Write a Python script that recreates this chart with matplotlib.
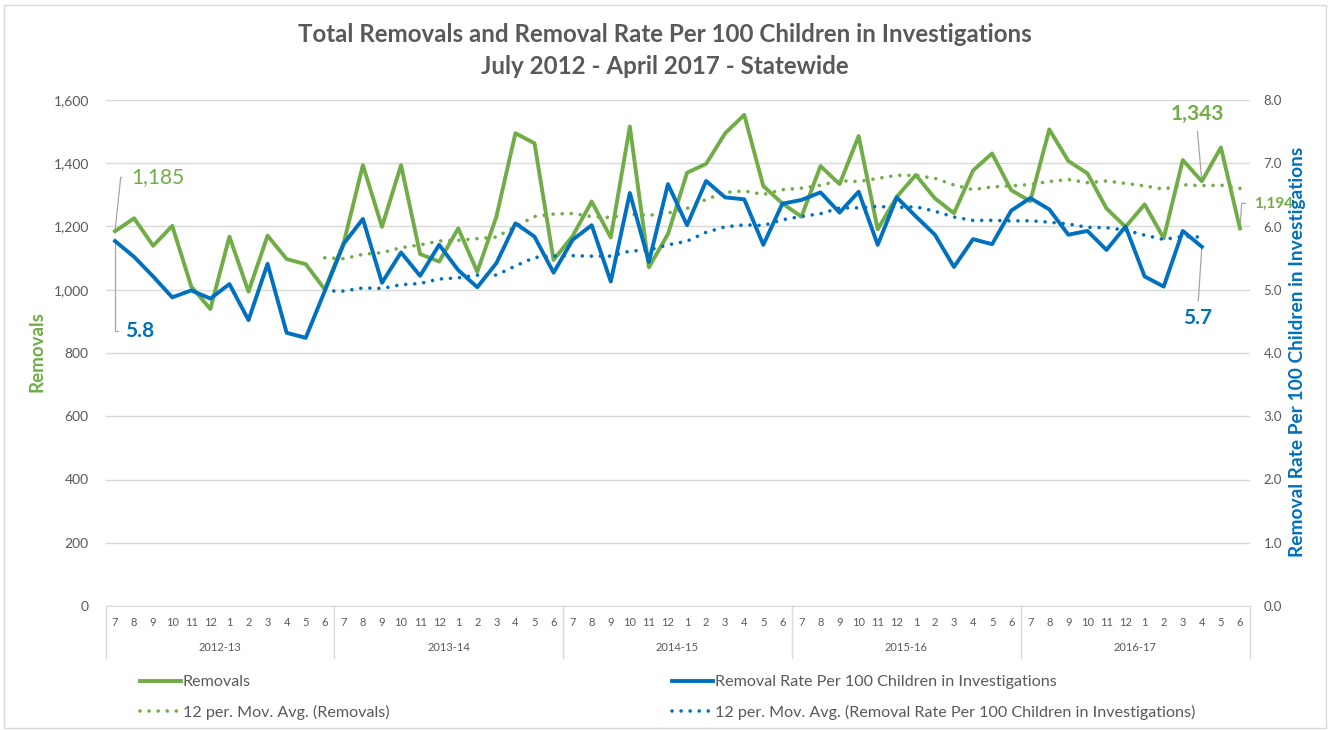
import numpy as np
import pandas as pd
import matplotlib
matplotlib.use('Agg')
import matplotlib.pyplot as plt
import matplotlib.transforms as mtransforms
from matplotlib.lines import Line2D
from matplotlib.patches import Rectangle
from matplotlib.ticker import FuncFormatter, MultipleLocator

plt.rcParams['font.family'] = ['Lato', 'DejaVu Sans']

# data (July 2012 - June 2017)
years = ['2012-13', '2013-14', '2014-15', '2015-16', '2016-17']
months = [7, 8, 9, 10, 11, 12, 1, 2, 3, 4, 5, 6]

removals = [1185, 1226, 1139, 1202, 1010, 939, 1168, 994, 1171, 1097, 1081, 1001,
            1150, 1394, 1199, 1394, 1113, 1089, 1194, 1057, 1231, 1495, 1463, 1094,
            1170, 1279, 1165, 1516, 1071, 1176, 1370, 1398, 1495, 1553, 1328, 1273,
            1231, 1391, 1334, 1486, 1191, 1294, 1363, 1289, 1242, 1377, 1431, 1315,
            1280, 1507, 1407, 1368, 1257, 1199, 1270, 1163, 1410, 1343, 1450, 1194]

# rate only runs to April 2017
rate = [5.77, 5.52, 5.21, 4.88, 4.99, 4.86, 5.09, 4.52, 5.41, 4.32, 4.24, 4.98,
        5.73, 6.12, 5.11, 5.59, 5.22, 5.71, 5.31, 5.04, 5.42, 6.05, 5.84, 5.27,
        5.79, 6.02, 5.13, 6.53, 5.44, 6.67, 6.02, 6.72, 6.46, 6.43, 5.71, 6.36,
        6.42, 6.54, 6.22, 6.55, 5.71, 6.46, 6.16, 5.87, 5.36, 5.80, 5.72, 6.25,
        6.45, 6.27, 5.87, 5.93, 5.63, 6.00, 5.21, 5.05, 5.93, 5.68]

green = '#70AD47'
blue = '#0070C0'
gray = '#595959'
grid = '#D9D9D9'

x_rem = np.arange(len(removals))
x_rate = np.arange(len(rate))
ma_rem = pd.Series(removals).rolling(12).mean()   # Excel "12 per. Mov. Avg." trendline
ma_rate = pd.Series(rate).rolling(12).mean()

fig = plt.figure(figsize=(13.28, 7.30), dpi=100)
fig.add_artist(Rectangle((4/1328, 2/730), 1322/1328, 723/730, transform=fig.transFigure,
                         fill=False, edgecolor=grid, lw=1))
ax = fig.add_axes([105.5/1328, 1-606/730, 1144/1328, 506/730])
ax2 = ax.twinx()

dots = (0, (0.01, 2.5))
ax.plot(x_rem, ma_rem, color=green, lw=2.6, linestyle=dots, dash_capstyle='round', zorder=3)
ax.plot(x_rem, removals, color=green, lw=2.8, zorder=4)
ax2.plot(x_rate, ma_rate, color=blue, lw=2.6, linestyle=dots, dash_capstyle='round', zorder=3)
ax2.plot(x_rate, rate, color=blue, lw=2.8, zorder=4)

ax.set_xlim(-0.5, len(removals)-0.5)
ax.set_ylim(0, 1600)
ax2.set_ylim(0, 8)
ax.yaxis.set_major_locator(MultipleLocator(200))
ax2.yaxis.set_major_locator(MultipleLocator(1))
ax.yaxis.set_major_formatter(FuncFormatter(lambda v, p: f'{v:,.0f}'))
ax2.yaxis.set_major_formatter(FuncFormatter(lambda v, p: f'{v:.1f}'))
ax.grid(axis='y', color=grid, lw=1)
ax.set_axisbelow(True)
for a in (ax, ax2):
    for s in a.spines.values():
        s.set_visible(False)
ax.spines['bottom'].set_visible(True)
ax.spines['bottom'].set_color(grid)
ax.tick_params(axis='y', length=0, pad=12, labelsize=10, labelcolor=gray)
ax2.tick_params(axis='y', length=0, pad=10, labelsize=9.5, labelcolor=gray)

# two-level category axis
ax.set_xticks(x_rem)
ax.set_xticklabels([str(m) for m in months * len(years)])
ax.tick_params(axis='x', length=0, pad=8, labelsize=8, labelcolor=gray)
trans = mtransforms.blended_transform_factory(ax.transData, ax.transAxes)
for i, yr in enumerate(years):
    ax.text(i*12 + 5.5, -0.083, yr, transform=trans, ha='center', va='center',
            fontsize=8, color=gray)
for i in range(len(years)+1):
    ax.plot([i*12 - 0.5]*2, [0, -0.103], transform=trans, color=grid, lw=1, clip_on=False)

# data labels with leader lines
lead = dict(arrowstyle='-', color='#A6A6A6', lw=0.9, shrinkB=0)
ax.annotate(f'{removals[0]:,}', xy=(0, removals[0]), xytext=(16, 54), textcoords='offset pixels',
            ha='left', va='center', fontsize=15, color=green,
            arrowprops=dict(lead, relpos=(0, 0.5), shrinkA=5, connectionstyle='angle,angleA=0,angleB=84,rad=0'))
ax2.annotate(f'{rate[0]:.1f}', xy=(0, rate[0]), xytext=(10, -90), textcoords='offset pixels',
             ha='left', va='center', fontsize=15, fontweight='bold', color=blue,
             arrowprops=dict(lead, relpos=(0, 0.5), shrinkA=3, connectionstyle='angle,angleA=0,angleB=90,rad=0'))
ax.annotate(f'{removals[57]:,}', xy=(57, removals[57]), xytext=(-5, 67), textcoords='offset pixels',
            ha='center', va='center', fontsize=15, fontweight='bold', color=green,
            arrowprops=dict(lead, relpos=(0.5, 0), shrinkA=3))
ax2.annotate(f'{rate[57]:.1f}', xy=(57, rate[57]), xytext=(-4, -71), textcoords='offset pixels',
             ha='center', va='center', fontsize=15, fontweight='bold', color=blue,
             arrowprops=dict(lead, relpos=(0.5, 1), shrinkA=3))
ax.annotate(f'{removals[59]:,}', xy=(59, removals[59]), xytext=(14, 25), textcoords='offset pixels',
            ha='left', va='center', fontsize=11, fontweight='bold', color=green,
            arrowprops=dict(lead, relpos=(0, 0.5), shrinkA=4, connectionstyle='angle,angleA=0,angleB=86,rad=0'))

# titles
fig.text(665/1328, 1-34/730, 'Total Removals and Removal Rate Per 100 Children in Investigations',
         ha='center', va='center', fontsize=17.4, fontweight='bold', color=gray)
fig.text(665/1328, 1-67/730, 'July 2012 - April 2017 - Statewide',
         ha='center', va='center', fontsize=17.4, fontweight='bold', color=gray)
fig.text(37/1328, 1-352/730, 'Removals', rotation=90, ha='center', va='center',
         fontsize=13.5, fontweight='bold', color=green)
fig.text(1298/1328, 1-352/730, 'Removal Rate Per 100 Children in Investigations', rotation=90,
         ha='center', va='center', fontsize=13.8, fontweight='bold', color=blue)

# legend
h1 = [Line2D([], [], color=green, lw=2.8),
      Line2D([], [], color=green, lw=2.6, linestyle=dots, dash_capstyle='round')]
h2 = [Line2D([], [], color=blue, lw=2.8),
      Line2D([], [], color=blue, lw=2.6, linestyle=dots, dash_capstyle='round')]
leg_kw = dict(frameon=False, fontsize=11.6, handlelength=2.55, handletextpad=0.1,
              labelspacing=0.98, labelcolor=gray, borderaxespad=0, borderpad=0)
fig.legend(h1, ['Removals', '12 per. Mov. Avg. (Removals)'],
           loc='upper left', bbox_to_anchor=(140/1328, 1-675/730), **leg_kw)
fig.legend(h2, ['Removal Rate Per 100 Children in Investigations',
                '12 per. Mov. Avg. (Removal Rate Per 100 Children in Investigations)'],
           loc='upper left', bbox_to_anchor=(672/1328, 1-675/730), **leg_kw)

fig.savefig('out.png', dpi=100)
